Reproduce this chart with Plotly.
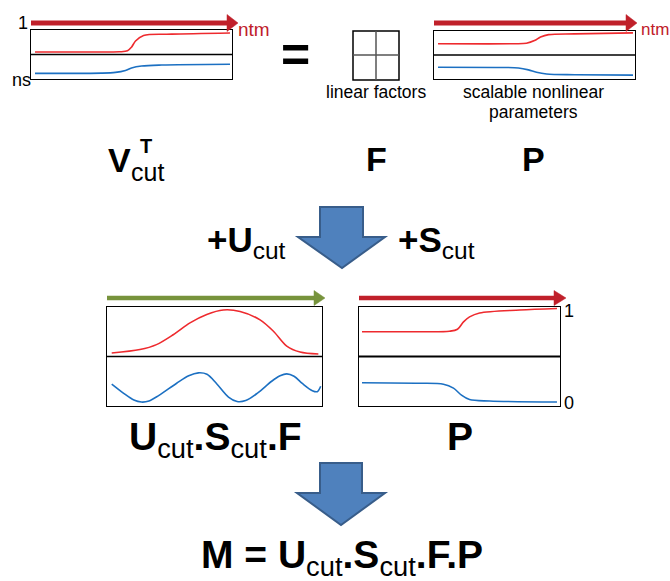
import plotly.graph_objects as go

# ---------------- data (curve samples) ----------------
# Panel "V_cut^T" (top-left); y in 0..2, top half red, bottom half blue
vt_red_x = [2, 30, 44, 48, 50, 52, 56, 70, 99]
vt_red_y = [1.10, 1.10, 1.11, 1.15, 1.30, 1.55, 1.78, 1.83, 1.88]
vt_blue_x = [2, 35, 42, 47, 50, 55, 65, 99]
vt_blue_y = [0.23, 0.24, 0.27, 0.35, 0.45, 0.53, 0.57, 0.60]

# Panel "P" (top-right)
p1_red_x = [2, 40, 46, 50, 53, 57, 70, 99]
p1_red_y = [1.47, 1.47, 1.49, 1.60, 1.75, 1.85, 1.88, 1.92]
p1_blue_x = [2, 35, 42, 47, 51, 56, 70, 99]
p1_blue_y = [0.49, 0.48, 0.46, 0.38, 0.28, 0.21, 0.18, 0.16]

# Panel "U_cut.S_cut.F" (middle-left)
usf_red_x = [2.2, 15.3, 23, 30.8, 38.6, 46.4, 54.1, 61.9, 71.2, 77.4, 83.6, 89.8, 98.3]
usf_red_y = [1.07, 1.14, 1.24, 1.44, 1.68, 1.85, 1.94, 1.91, 1.74, 1.51, 1.21, 1.09, 1.05]
usf_blue_x = [2.2, 7.6, 12.5, 16.0, 19.5, 24, 32.4, 38.0, 42.5, 46.5, 51.0, 56.5, 60.5, 64.5,
              70.0, 76.6, 80.5, 83.6, 87.0, 91.0, 95.5, 97.8, 99.4]
usf_blue_y = [0.44, 0.26, 0.12, 0.08, 0.10, 0.21, 0.46, 0.61, 0.67, 0.64, 0.45, 0.18, 0.09, 0.11,
              0.26, 0.50, 0.61, 0.65, 0.60, 0.45, 0.31, 0.29, 0.40]

# Panel "P" (middle-right)
p2_red_x = [1.5, 30, 45, 49, 52, 55, 60, 80, 98.5]
p2_red_y = [1.50, 1.50, 1.51, 1.55, 1.70, 1.80, 1.88, 1.94, 1.97]
p2_blue_x = [1.5, 30, 42, 47, 51, 55, 65, 98.5]
p2_blue_y = [0.47, 0.46, 0.44, 0.36, 0.22, 0.13, 0.10, 0.08]

# ---------------- styling / layout helpers ----------------
W, H = 670, 581
RED = "#EE2A2E"
BLUE = "#1C70C2"
DARKRED = "#C0202A"
GREEN = "#77933C"
ARROW_FILL = "#4F81BD"
ARROW_LINE = "#385D8A"
FONT = "Liberation Sans, Arial, sans-serif"


def px(x):
    return x / W


def py(y):
    return 1 - y / H


# panel boxes in pixels: (left, top, right, bottom)
panels = [
    (31, 30, 232, 79),
    (434, 31, 635, 79),
    (107, 307, 322, 406),
    (359, 307, 560, 406),
]
curves = [
    ((vt_red_x, vt_red_y), (vt_blue_x, vt_blue_y)),
    ((p1_red_x, p1_red_y), (p1_blue_x, p1_blue_y)),
    ((usf_red_x, usf_red_y), (usf_blue_x, usf_blue_y)),
    ((p2_red_x, p2_red_y), (p2_blue_x, p2_blue_y)),
]

fig = go.Figure()
layout = dict(
    width=W, height=H, autosize=False,
    margin=dict(l=0, r=0, t=0, b=0),
    paper_bgcolor="white", plot_bgcolor="white",
    showlegend=False,
)
shapes = []

for i, ((l, t, r, b), (red, blue)) in enumerate(zip(panels, curves)):
    s = "" if i == 0 else str(i + 1)
    xa, ya = "x" + s, "y" + s
    for (cx, cy), col in ((red, RED), (blue, BLUE)):
        fig.add_trace(go.Scatter(
            x=cx, y=cy, mode="lines", xaxis=xa, yaxis=ya,
            line=dict(color=col, width=1.6, shape="spline", smoothing=0.9),
            hoverinfo="skip", showlegend=False))
    axcommon = dict(showline=True, mirror=True, linecolor="black", linewidth=1.3,
                    showgrid=False, zeroline=False, showticklabels=False,
                    ticks="", fixedrange=True)
    layout["xaxis" + s] = dict(domain=[px(l), px(r)], range=[0, 100], anchor=ya, **axcommon)
    layout["yaxis" + s] = dict(domain=[py(b), py(t)], range=[0, 2], anchor=xa, **axcommon)
    shapes.append(dict(type="line", xref=xa + " domain", yref=ya, x0=0, x1=1, y0=1, y1=1,
                       line=dict(color="black", width=1.8 if i == 3 else 1.3)))


def line_arrow(x0, x1, y, color, lw, head_len, head_half):
    tip = x1
    base = x1 - head_len
    shapes.append(dict(type="line", xref="paper", yref="paper",
                       x0=px(x0), x1=px(base + 1), y0=py(y), y1=py(y),
                       line=dict(color=color, width=lw)))
    path = "M {} {} L {} {} L {} {} Z".format(
        px(base), py(y - head_half), px(tip), py(y), px(base), py(y + head_half))
    shapes.append(dict(type="path", xref="paper", yref="paper", path=path,
                       fillcolor=color, line=dict(color=color, width=0.5)))


line_arrow(31, 238, 23, DARKRED, 5, 11, 8.5)
line_arrow(434, 637, 23, DARKRED, 5, 11, 8.5)
line_arrow(107, 325, 298, GREEN, 4.5, 11, 7.5)
line_arrow(359, 566, 298, DARKRED, 4.5, 12, 7.5)


def block_arrow(sl, sr, top, hb, hl, hr, tipx, tipy):
    pts = [(sl, top), (sr, top), (sr, hb), (hr, hb), (tipx, tipy), (hl, hb), (sl, hb)]
    path = "M " + " L ".join("{} {}".format(px(a), py(b)) for a, b in pts) + " Z"
    shapes.append(dict(type="path", xref="paper", yref="paper", path=path,
                       fillcolor=ARROW_FILL, line=dict(color=ARROW_LINE, width=2)))


block_arrow(320, 363, 207, 237, 298, 385, 342, 268)
block_arrow(320, 362, 463, 493, 297, 385, 341, 525)

# linear factors grid
shapes.append(dict(type="rect", xref="paper", yref="paper",
                   x0=px(353), x1=px(399), y0=py(80), y1=py(31),
                   line=dict(color="black", width=1.5)))
shapes.append(dict(type="line", xref="paper", yref="paper",
                   x0=px(376), x1=px(376), y0=py(80), y1=py(31),
                   line=dict(color="#555555", width=1.5)))
shapes.append(dict(type="line", xref="paper", yref="paper",
                   x0=px(353), x1=px(399), y0=py(55), y1=py(55),
                   line=dict(color="#555555", width=1.5)))

layout["shapes"] = shapes

annotations = []


def ann(text, x, y, size, color="black", xanchor="center"):
    annotations.append(dict(text=text, x=px(x), y=py(y), xref="paper", yref="paper",
                            xanchor=xanchor, yanchor="middle", showarrow=False,
                            font=dict(family=FONT, size=size, color=color)))


# small labels
ann("1", 23, 23, 18)
ann("ns", 21, 80, 18)
ann("ntm", 254, 30, 19, DARKRED)
ann("ntm", 671, 30, 17, DARKRED, xanchor="right")
ann("<b>=</b>", 295.5, 55, 50)
ann("linear factors", 376, 92, 17.5)
ann("scalable nonlinear", 533, 92, 17.5)
ann("parameters", 533, 112, 17.5)
ann("1", 569, 311, 18)
ann("0", 569, 403, 18)

# row 1
ann("<b>V</b>", 119, 160, 34)
ann("<b>T</b>", 146, 146, 20)
ann("cut", 147, 172, 25)
ann("<b>F</b>", 376, 159, 34)
ann("<b>P</b>", 533.5, 159, 34)

# row 2
ann("<b>+U</b><sub>cut</sub>", 246.5, 242, 35)
ann("<b>+S</b><sub>cut</sub>", 436.5, 242, 35)

# row 3
ann("<b>U</b><sub>cut</sub><b>.S</b><sub>cut</sub><b>.F</b>", 215, 439, 39)
ann("<b>P</b>", 460, 436, 39)

# row 4
ann("<b>M = U</b><sub>cut</sub><b>.S</b><sub>cut</sub><b>.F.P</b>", 342, 557, 39)

layout["annotations"] = annotations
fig.update_layout(**layout)
fig.write_html("out.html")
